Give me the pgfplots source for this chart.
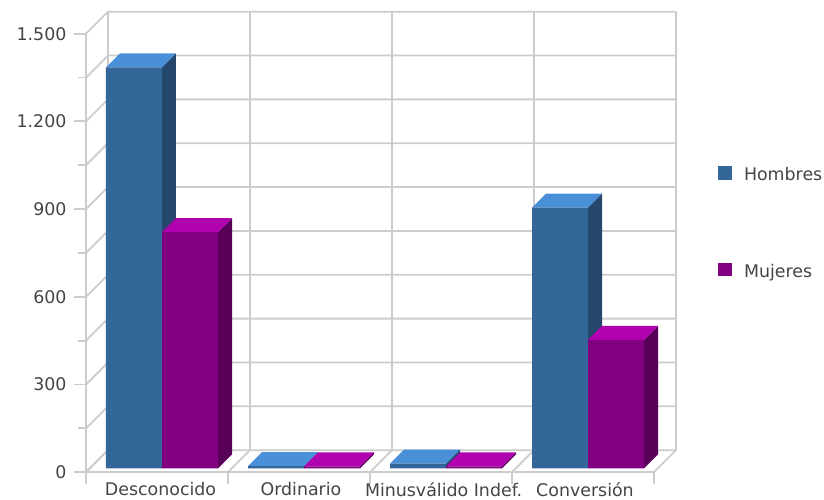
\documentclass[border=0pt]{standalone}
\usepackage{fontspec}
\setmainfont{DejaVu Sans}
\usepackage{pgfplots}
\usepackage{pgfplotstable}
\pgfplotsset{compat=1.18}
\definecolor{gridc}{HTML}{CCCCCC}
\definecolor{txt}{HTML}{444444}
\definecolor{mf}{HTML}{336699}
\definecolor{mt}{HTML}{4A90D9}
\definecolor{ms}{HTML}{24476B}
\definecolor{wf}{HTML}{800080}
\definecolor{wt}{HTML}{B000B0}
\definecolor{ws}{HTML}{590059}
\pgfplotstableread{
x hombres mujeres
0 1372 808
1 8 7
2 16 7
3 892 440
}\datatable
% #1 category, #2 value, #3 left edge offset from category centre (pixels)
\newcommand{\barfaces}[5]{%
  \pgfmathsetmacro{\xl}{#1+(#3)/142}%
  \pgfmathsetmacro{\xr}{#1+(#3+56)/142}%
  \pgfmathsetmacro{\xlb}{#1+(#3+14)/142}%
  \pgfmathsetmacro{\xrb}{#1+(#3+70)/142}%
  \pgfmathsetmacro{\vb}{#2+47.9}%
  \edef\tmp{\noexpand\addplot[fill=#4,draw=none,forget plot,yshift=3.8pt] coordinates {(\xr,0) (\xrb,47.9) (\xrb,\vb) (\xr,#2)} --cycle;}\tmp
  \edef\tmp{\noexpand\addplot[fill=#5,draw=none,forget plot,yshift=3.8pt] coordinates {(\xl,#2) (\xlb,\vb) (\xrb,\vb) (\xr,#2)} --cycle;}\tmp
}
\begin{document}
\begin{tikzpicture}
\useasboundingbox (-86pt,-27.8pt) rectangle (738pt,472.2pt);
\begin{axis}[
  at={(0pt,0pt)}, anchor=south west,
  scale only axis, width=568pt, height=438.5pt,
  xmin=-0.5, xmax=3.5, ymin=0, ymax=1500,
  clip=false,
  axis lines*=left,
  axis line style={draw=gridc,line width=1.8pt},
  tick align=outside,
  major tick style={draw=gridc,line width=1.8pt},
  minor tick style={draw=gridc,line width=1.8pt},
  major tick length=12pt, minor tick length=8pt,
  xtick={-0.5,0.5,1.5,2.5,3.5},
  xticklabels={},
  extra x ticks={0.025,1.014,2.018,3.014},
  extra x tick labels={Desconocido,Ordinario,Minusválido Indef.,Conversión},
  extra x tick style={major tick length=0pt,tick style={draw=none}},
  ytick={0,300,600,900,1200,1500},
  minor ytick={150,450,750,1050,1350},
  /pgf/number format/assume math mode=true,
  /pgf/number format/1000 sep={.},
  ticklabel style={font=\fontsize{17.4}{19}\selectfont,text=txt},
  xticklabel style={yshift=-6.5pt},
  yticklabel style={xshift=-4pt},
  legend style={draw=none,fill=none,at={(632pt,307pt)},anchor=north west,
    inner sep=0pt,outer sep=0pt,row sep=78pt,
    font=\fontsize{17.4}{19}\selectfont,text=txt,
    cells={anchor=west}},
]
% back wall, left wall, floor
\pgfplotsinvokeforeach{0,150,300,450,600,750,900,1050,1200,1350,1500}{
  \draw[gridc,line width=1.8pt] (axis cs:-0.5,#1) -- ++(22pt,22pt) -- ++(568pt,0pt);
}
\pgfplotsinvokeforeach{-0.5,0.5,1.5,2.5,3.5}{
  \draw[gridc,line width=1.8pt] (axis cs:#1,0) -- ++(22pt,22pt) -- ++(0pt,438.5pt);
}
\barfaces{0}{1372}{-51}{ms}{mt}
\barfaces{1}{8}{-51}{ms}{mt}
\barfaces{2}{16}{-51}{ms}{mt}
\barfaces{3}{892}{-51}{ms}{mt}
\addplot[ybar,bar width=56pt,bar shift=-23pt,yshift=3.8pt,fill=mf,draw=none,
  legend image code/.code={\fill[mf] (0pt,-9pt) rectangle (13.5pt,4.5pt);\path (24pt,0pt);}]
  table[x=x,y=hombres]{\datatable};
\addlegendentry{Hombres}
\barfaces{0}{808}{5}{ws}{wt}
\barfaces{1}{7}{5}{ws}{wt}
\barfaces{2}{7}{5}{ws}{wt}
\barfaces{3}{440}{5}{ws}{wt}
\addplot[ybar,bar width=56pt,bar shift=33pt,yshift=3.8pt,fill=wf,draw=none,
  legend image code/.code={\fill[wf] (0pt,-9pt) rectangle (13.5pt,4.5pt);\path (24pt,0pt);}]
  table[x=x,y=mujeres]{\datatable};
\addlegendentry{Mujeres}
\end{axis}
\end{tikzpicture}
\end{document}
